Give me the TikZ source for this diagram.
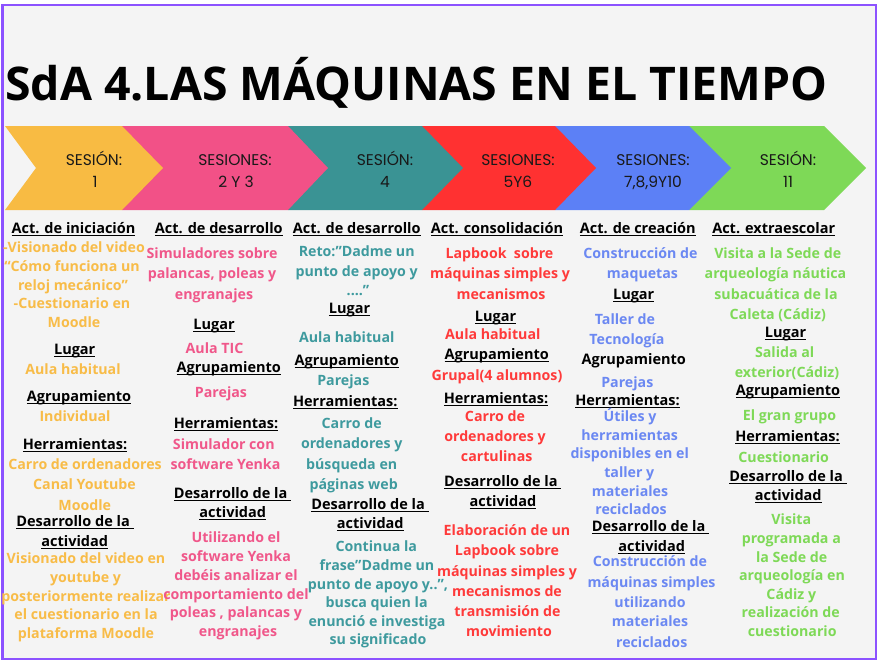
\documentclass[tikz,border=0pt]{standalone}
\usepackage{fontspec}
\setmainfont{Open Sans}
\newfontfamily\popfont{Poppins}
\definecolor{bgc}{HTML}{F4F4F4}
\definecolor{frame}{HTML}{8C52FF}
\definecolor{cyel}{HTML}{F8BB43}
\definecolor{cpink}{HTML}{F25187}
\definecolor{cteal}{HTML}{3A9394}
\definecolor{cred}{HTML}{FF3131}
\definecolor{cblue}{HTML}{5C80F6}
\definecolor{cgreen}{HTML}{7ED957}
\definecolor{tyel}{HTML}{F8BC48}
\definecolor{tpink}{HTML}{F0578A}
\definecolor{tteal}{HTML}{3E9A9E}
\definecolor{tred}{HTML}{FF3A3A}
\definecolor{tblue}{HTML}{6B88F2}
\definecolor{tgreen}{HTML}{7ED957}
\newcommand\hul[1]{\setbox0=\hbox{#1}\rlap{\rule[-2.6pt]{\wd0}{1.2pt}}\box0}
\tikzset{
  tx/.style={font=\fontsize{14.2}{17}\selectfont\bfseries, text height=11.5pt, text depth=2.5pt, inner sep=0pt},
  hd/.style={tx, font=\fontsize{14.5}{17}\selectfont\bfseries, text=black},
  ka/.style={tx, text=tyel},
  kb/.style={tx, text=tpink},
  kc/.style={tx, text=tteal},
  kd/.style={tx, text=tred},
  ke/.style={tx, text=tblue},
  kf/.style={tx, text=tgreen},
  sess/.style={anchor=base, inner sep=0pt, font=\popfont\fontsize{15.5}{18}\selectfont, text=black!90},
}
\begin{document}
\begin{tikzpicture}[x=1pt,y=-1pt]
\useasboundingbox (0,0) rectangle (878,662);
\fill[white] (0,0) rectangle (878,662);
\draw[frame, line width=2.6pt, fill=bgc] (2.5,5) rectangle (876,659);
% title
\node[anchor=base west, inner sep=0pt, font=\fontsize{46.4}{50}\selectfont\bfseries] (title) at (5,100) {SdA 4.LAS MÁQUINAS EN EL TIEMPO};
% chevrons (back to front)
\fill[cgreen] (689,126) -- (824,126) -- (866,168) -- (824,210) -- (689,210) -- cycle;
\fill[cblue] (555,126) -- (689,126) -- (731,168) -- (689,210) -- (555,210) -- cycle;
\fill[cred] (422,126) -- (555,126) -- (596,168) -- (555,210) -- (422,210) -- cycle;
\fill[cteal] (288,126) -- (422,126) -- (463,168) -- (422,210) -- (288,210) -- cycle;
\fill[cpink] (122,126) -- (288,126) -- (328,168) -- (288,210) -- (122,210) -- cycle;
\fill[cyel] (5,126) -- (122,126) -- (163,168) -- (122,210) -- (5,210) -- (36,168) -- cycle;
\node[sess] (s1a) at (94,165) {SESIÓN:};
\node[sess] (s1b) at (95,187) {1};
\node[sess] (s2a) at (235,165) {SESIONES:};
\node[sess] (s2b) at (236,187) {2 Y 3};
\node[sess] (s3a) at (385,165) {SESIÓN:};
\node[sess] (s3b) at (385,187) {4};
\node[sess] (s4a) at (518,165) {SESIONES:};
\node[sess] (s4b) at (518,187) {5Y6};
\node[sess] (s5a) at (653,165) {SESIONES:};
\node[sess] (s5b) at (653,187) {7,8,9Y10};
\node[sess] (s6a) at (788,165) {SESIÓN:};
\node[sess] (s6b) at (788,187) {11};
% column 1
\node[hd] (h1a) at (73.5,229) {\hul{Act. de iniciación}};
\node[ka] (a1) at (74,248) {-Visionado del video};
\node[ka] (a2) at (72,267) {“Cómo funciona un};
\node[ka] (a3) at (73,286) {reloj mecánico”};
\node[ka] (a4) at (72,304) {-Cuestionario en};
\node[ka] (a5) at (74,323) {Moodle};
\node[hd] (h1b) at (74.7,350) {\hul{Lugar}};
\node[ka] (a6) at (73,370) {Aula habitual};
\node[hd] (h1c) at (79,397) {\hul{Agrupamiento}};
\node[ka] (a7) at (75,417) {Individual};
\node[hd] (h1d) at (75,445) {\hul{Herramientas:}};
\node[ka] (a8) at (85,465) {Carro de ordenadores};
\node[ka] (a9) at (84.5,485) {Canal Youtube};
\node[ka] (a10) at (84.7,506) {Moodle};
\node[hd] (h1e) at (75,522) {\hul{Desarrollo de la\ }};
\node[hd] (h1f) at (74.7,542) {\hul{actividad}};
\node[ka] (a11) at (86,559) {Visionado del video en};
\node[ka] (a12) at (85.5,578) {youtube y};
\node[ka] (a13) at (86,597) {posteriormente realizar};
\node[ka] (a14) at (86,615) {el cuestionario en la};
\node[ka] (a15) at (86,634) {plataforma Moodle};
% column 2
\node[hd] (h2a) at (218.8,229) {\hul{Act. de desarrollo}};
\node[kb] (b1) at (212,254) {Simuladores sobre};
\node[kb] (b2) at (212,274) {palancas, poleas y};
\node[kb] (b3) at (214,295) {engranajes};
\node[hd] (h2b) at (214,325) {\hul{Lugar}};
\node[kb] (b4) at (214.5,349) {Aula TIC};
\node[hd] (h2c) at (228.8,368) {\hul{Agrupamiento}};
\node[kb] (b5) at (221,393) {Parejas};
\node[hd] (h2d) at (226,424) {\hul{Herramientas:}};
\node[kb] (b6) at (223.8,445) {Simulador con};
\node[kb] (b7) at (225.5,465) {software Yenka};
\node[hd] (h2e) at (232.5,494) {\hul{Desarrollo de la\ }};
\node[hd] (h2f) at (232.7,513) {\hul{actividad}};
\node[kb] (b8) at (236,538) {Utilizando el};
\node[kb] (b9) at (236,557) {software Yenka};
\node[kb] (b10) at (236,576) {debéis analizar el};
\node[kb] (b11) at (236,595) {comportamiento del};
\node[kb] (b12) at (236,613) {poleas , palancas y};
\node[kb] (b13) at (238,632) {engranajes};
% column 3
\node[hd] (h3a) at (356.7,229) {\hul{Act. de desarrollo}};
\node[kc] (c1) at (356.7,252) {Reto:”Dadme un};
\node[kc] (c2) at (356.7,272) {punto de apoyo y};
\node[kc] (c3) at (358,291) {....”};
\node[hd] (h3b) at (349.5,309) {\hul{Lugar}};
\node[kc] (c4) at (346.8,338) {Aula habitual};
\node[hd] (h3c) at (346.8,361) {\hul{Agrupamiento}};
\node[kc] (c5) at (343.3,381) {Parejas};
\node[hd] (h3d) at (345.3,402) {\hul{Herramientas:}};
\node[kc] (c6) at (351.7,424) {Carro de};
\node[kc] (c7) at (351.7,444) {ordenadores y};
\node[kc] (c8) at (351.7,465) {búsqueda en};
\node[kc] (c9) at (353.7,485) {páginas web};
\node[hd] (h3e) at (370,505) {\hul{Desarrollo de la\ }};
\node[hd] (h3f) at (370.3,524) {\hul{actividad}};
\node[kc] (c10) at (376.3,547) {Continua la};
\node[kc] (c11) at (377,566) {frase”Dadme un};
\node[kc] (c12) at (378,585) {punto de apoyo y..”,};
\node[kc] (c13) at (376.7,603) {busca quien la};
\node[kc] (c14) at (377,622) {enunció e investiga};
\node[kc] (c15) at (378,640) {su significado};
% column 4
\node[hd] (h4a) at (497,229) {\hul{Act. consolidación}};
\node[kd] (d1) at (499.5,254) {Lapbook\ \ sobre};
\node[kd] (d2) at (500,274) {máquinas simples y};
\node[kd] (d3) at (501,295) {mecanismos};
\node[hd] (h4b) at (495.5,317) {\hul{Lugar}};
\node[kd] (d4) at (492.8,335) {Aula habitual};
\node[hd] (h4c) at (496.7,355) {\hul{Agrupamiento}};
\node[kd] (d5) at (497,376) {Grupal(4 alumnos)};
\node[hd] (h4d) at (496,399) {\hul{Herramientas:}};
\node[kd] (d6) at (495,417) {Carro de};
\node[kd] (d7) at (495,437) {ordenadores y};
\node[kd] (d8) at (496.7,457) {cartulinas};
\node[hd] (h4e) at (502.8,482) {\hul{Desarrollo de la\ }};
\node[hd] (h4f) at (503,502) {\hul{actividad}};
\node[kd] (d9) at (507,531) {Elaboración de un};
\node[kd] (d10) at (507,551) {Lapbook sobre};
\node[kd] (d11) at (507,572) {máquinas simples y};
\node[kd] (d12) at (507,592) {mecanismos de};
\node[kd] (d13) at (507.5,612) {transmisión de};
\node[kd] (d14) at (509,632) {movimiento};
% column 5
\node[hd] (h5a) at (637.8,229) {\hul{Act. de creación}};
\node[ke] (e1) at (640.5,254) {Construcción de};
\node[ke] (e2) at (642.5,274) {maquetas};
\node[hd] (h5b) at (633.7,295) {\hul{Lugar}};
\node[ke] (e3) at (625,320) {Taller de};
\node[ke] (e4) at (627,340) {Tecnología};
\node[hd] (h5c) at (633.8,360) {Agrupamiento};
\node[ke] (e5) at (627.3,383) {Parejas};
\node[hd] (h5d) at (627.5,401) {\hul{Herramientas:}};
\node[ke] (e6) at (630,417) {Útiles y};
\node[ke] (e7) at (629.7,436) {herramientas};
\node[ke] (e8) at (629.7,454) {disponibles en el};
\node[ke] (e9) at (629.3,473) {taller y};
\node[ke] (e10) at (630,492) {materiales};
\node[ke] (e11) at (631,510) {reciclados};
\node[hd] (h5e) at (650.5,527) {\hul{Desarrollo de la\ }};
\node[hd] (h5f) at (651.7,547) {\hul{actividad}};
\node[ke] (e12) at (650,562) {Construcción de};
\node[ke] (e13) at (651.5,583) {máquinas simples};
\node[ke] (e14) at (650,603) {utilizando};
\node[ke] (e15) at (650,622) {materiales};
\node[ke] (e16) at (651.7,643) {reciclados};
% column 6
\node[hd] (h6a) at (773.7,229) {\hul{Act. extraescolar}};
\node[kf] (f1) at (777.7,254) {Visita a la Sede de};
\node[kf] (f2) at (775.5,274) {arqueología náutica};
\node[kf] (f3) at (776,295) {subacuática de la};
\node[kf] (f4) at (777.8,315) {Caleta (Cádiz)};
\node[hd] (h6b) at (785.5,333) {\hul{Lugar}};
\node[kf] (f5) at (784.7,353) {Salida al};
\node[kf] (f6) at (787,373) {exterior(Cádiz)};
\node[hd] (h6c) at (788,391) {\hul{Agrupamiento}};
\node[kf] (f7) at (789.5,416) {El gran grupo};
\node[hd] (h6d) at (787.5,437) {\hul{Herramientas:}};
\node[kf] (f8) at (783.7,458) {Cuestionario};
\node[hd] (h6e) at (788,477) {\hul{Desarrollo de la\ }};
\node[hd] (h6f) at (788.3,496) {\hul{actividad}};
\node[kf] (f9) at (791.3,520) {Visita};
\node[kf] (f10) at (791.3,539) {programada a};
\node[kf] (f11) at (791.7,558) {la Sede de};
\node[kf] (f12) at (792,576) {arqueología en};
\node[kf] (f13) at (791.3,595) {Cádiz y};
\node[kf] (f14) at (790.8,613) {realización de};
\node[kf] (f15) at (792.2,632) {cuestionario};
\end{tikzpicture}
\end{document}
